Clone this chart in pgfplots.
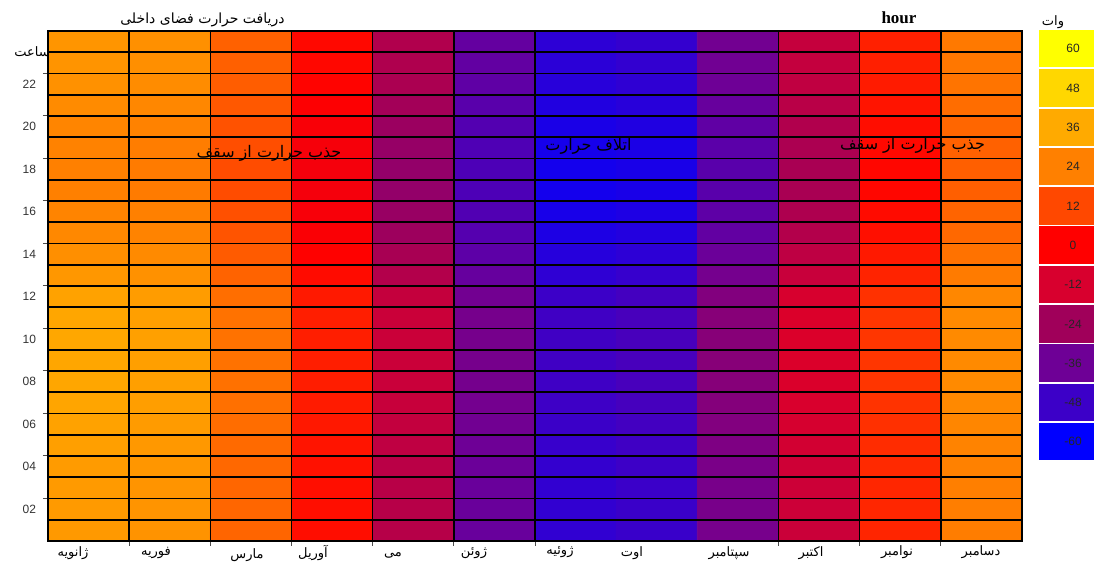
\documentclass[border=0pt]{standalone}
\usepackage{fontspec}
\usepackage{pgfplots}
\pgfplotsset{compat=1.18}
\setmainfont{Liberation Sans}
\newfontfamily\fa[Script=Arabic]{DejaVu Sans}
\newfontfamily\serifb{Liberation Serif}
\TeXXeTstate=1
\definecolor{c60}{RGB}{255,255,0}
\definecolor{c48}{RGB}{255,215,0}
\definecolor{c36}{RGB}{255,170,0}
\definecolor{c24}{RGB}{255,128,0}
\definecolor{c12}{RGB}{255,72,0}
\definecolor{c0}{RGB}{255,0,0}
\definecolor{cm12}{RGB}{216,0,46}
\definecolor{cm24}{RGB}{160,0,90}
\definecolor{cm36}{RGB}{110,0,150}
\definecolor{cm48}{RGB}{60,0,200}
\definecolor{cm60}{RGB}{0,0,255}
\begin{document}
\begin{tikzpicture}
\useasboundingbox (0,0) rectangle (547pt,281pt);
\begin{axis}[
  at={(24pt,10.5pt)}, anchor=south west,
  width=487pt, height=255pt, scale only axis,
  xmin=0, xmax=12, ymin=0, ymax=24,
  colormap={heat}{rgb255=(0,0,255) rgb255=(60,0,200) rgb255=(110,0,150) rgb255=(160,0,90) rgb255=(216,0,46) rgb255=(255,0,0) rgb255=(255,72,0) rgb255=(255,128,0) rgb255=(255,170,0) rgb255=(255,215,0) rgb255=(255,255,0)},
  point meta min=-60, point meta max=60,
  xtick={1,2,3,4,5,6,9,10,11}, xticklabels={},
  ytick={2,4,...,22}, yticklabels={02,04,06,08,10,12,14,16,18,20,22},
  minor ytick={1,3,...,23},
  tick pos=left,
  tick align=outside, major tick length=2.5pt, minor tick length=0pt,
  xmajorgrids, ymajorgrids, yminorgrids,
  major grid style={black, line width=0.8pt}, minor grid style={black, line width=0.8pt},
  axis line style={black, line width=0.8pt},
  tick style={black!70, line width=0.5pt},
  axis on top,
  yticklabel style={font=\fontsize{6}{7}\selectfont, text=black!80, yshift=-5.3pt},
  /pgf/number format/assume math mode=true,
]
\addplot[matrix plot*, mesh/cols=12, point meta=explicit] table[row sep=\\, meta=c] {
x y c\\
0.5 0.5 31.2\\ 1.5 0.5 29.5\\ 2.5 0.5 18.2\\ 3.5 0.5 2.2\\ 4.5 0.5 -19.2\\ 5.5 0.5 -37.5\\ 6.5 0.5 -50.2\\ 7.5 0.5 -48.5\\ 8.5 0.5 -33.9\\ 9.5 0.5 -14.9\\ 10.5 0.5 6.2\\ 11.5 0.5 23.5\\
0.5 1.5 31.4\\ 1.5 1.5 29.7\\ 2.5 1.5 18.4\\ 3.5 1.5 2.4\\ 4.5 1.5 -19\\ 5.5 1.5 -37.3\\ 6.5 1.5 -50\\ 7.5 1.5 -48.3\\ 8.5 1.5 -33.6\\ 9.5 1.5 -14.6\\ 10.5 1.5 6.4\\ 11.5 1.5 23.7\\
0.5 2.5 31.5\\ 1.5 2.5 29.8\\ 2.5 2.5 18.4\\ 3.5 2.5 2.4\\ 4.5 2.5 -18.8\\ 5.5 2.5 -37.2\\ 6.5 2.5 -49.9\\ 7.5 2.5 -48.2\\ 8.5 2.5 -33.5\\ 9.5 2.5 -14.5\\ 10.5 2.5 6.4\\ 11.5 2.5 23.8\\
0.5 3.5 31.9\\ 1.5 3.5 30.2\\ 2.5 3.5 18.8\\ 3.5 3.5 2.8\\ 4.5 3.5 -18.4\\ 5.5 3.5 -36.8\\ 6.5 3.5 -49.5\\ 7.5 3.5 -47.8\\ 8.5 3.5 -33.1\\ 9.5 3.5 -14.1\\ 10.5 3.5 6.8\\ 11.5 3.5 24.2\\
0.5 4.5 32.8\\ 1.5 4.5 31\\ 2.5 4.5 19.4\\ 3.5 4.5 3.4\\ 4.5 4.5 -17.4\\ 5.5 4.5 -36\\ 6.5 4.5 -48.8\\ 7.5 4.5 -47\\ 8.5 4.5 -32.2\\ 9.5 4.5 -13.2\\ 10.5 4.5 7.4\\ 11.5 4.5 25\\
0.5 5.5 33.7\\ 1.5 5.5 31.8\\ 2.5 5.5 20\\ 3.5 5.5 4\\ 4.5 5.5 -16.4\\ 5.5 5.5 -35.2\\ 6.5 5.5 -48.1\\ 7.5 5.5 -46.2\\ 8.5 5.5 -31.3\\ 9.5 5.5 -12.3\\ 10.5 5.5 8\\ 11.5 5.5 25.8\\
0.5 6.5 34.5\\ 1.5 6.5 32.5\\ 2.5 6.5 20.6\\ 3.5 6.5 4.6\\ 4.5 6.5 -15.6\\ 5.5 6.5 -34.5\\ 6.5 6.5 -47.5\\ 7.5 6.5 -45.5\\ 8.5 6.5 -30.6\\ 9.5 6.5 -11.6\\ 10.5 6.5 8.6\\ 11.5 6.5 26.5\\
0.5 7.5 34.8\\ 1.5 7.5 32.8\\ 2.5 7.5 20.8\\ 3.5 7.5 4.8\\ 4.5 7.5 -15.2\\ 5.5 7.5 -34.2\\ 6.5 7.5 -47.2\\ 7.5 7.5 -45.2\\ 8.5 7.5 -30.2\\ 9.5 7.5 -11.2\\ 10.5 7.5 8.8\\ 11.5 7.5 26.8\\
0.5 8.5 35\\ 1.5 8.5 33\\ 2.5 8.5 21\\ 3.5 8.5 5\\ 4.5 8.5 -15\\ 5.5 8.5 -34\\ 6.5 8.5 -47\\ 7.5 8.5 -45\\ 8.5 8.5 -30\\ 9.5 8.5 -11\\ 10.5 8.5 9\\ 11.5 8.5 27\\
0.5 9.5 35.2\\ 1.5 9.5 33.1\\ 2.5 9.5 21\\ 3.5 9.5 5\\ 4.5 9.5 -15\\ 5.5 9.5 -34\\ 6.5 9.5 -47\\ 7.5 9.5 -45\\ 8.5 9.5 -30\\ 9.5 9.5 -11\\ 10.5 9.5 9\\ 11.5 9.5 27\\
0.5 10.5 35\\ 1.5 10.5 33\\ 2.5 10.5 21\\ 3.5 10.5 5\\ 4.5 10.5 -15\\ 5.5 10.5 -34\\ 6.5 10.5 -47\\ 7.5 10.5 -45\\ 8.5 10.5 -30\\ 9.5 10.5 -11\\ 10.5 10.5 9\\ 11.5 10.5 27\\
0.5 11.5 33.9\\ 1.5 11.5 32\\ 2.5 11.5 20.2\\ 3.5 11.5 4.2\\ 4.5 11.5 -16.2\\ 5.5 11.5 -35\\ 6.5 11.5 -47.9\\ 7.5 11.5 -46\\ 8.5 11.5 -31.1\\ 9.5 11.5 -12.1\\ 10.5 11.5 8.2\\ 11.5 11.5 26\\
0.5 12.5 30.6\\ 1.5 12.5 29\\ 2.5 12.5 17.8\\ 3.5 12.5 1.8\\ 4.5 12.5 -19.8\\ 5.5 12.5 -38\\ 6.5 12.5 -50.6\\ 7.5 12.5 -49\\ 8.5 12.5 -34.4\\ 9.5 12.5 -15.4\\ 10.5 12.5 5.8\\ 11.5 12.5 23\\
0.5 13.5 28.4\\ 1.5 13.5 27\\ 2.5 13.5 16.2\\ 3.5 13.5 0.2\\ 4.5 13.5 -22.2\\ 5.5 13.5 -40\\ 6.5 13.5 -52.4\\ 7.5 13.5 -51\\ 8.5 13.5 -36.6\\ 9.5 13.5 -17.6\\ 10.5 13.5 4.2\\ 11.5 13.5 21\\
0.5 14.5 26.2\\ 1.5 14.5 25\\ 2.5 14.5 14.6\\ 3.5 14.5 -1.4\\ 4.5 14.5 -24.6\\ 5.5 14.5 -42\\ 6.5 14.5 -54.2\\ 7.5 14.5 -53\\ 8.5 14.5 -38.8\\ 9.5 14.5 -19.8\\ 10.5 14.5 2.6\\ 11.5 14.5 19\\
0.5 15.5 25.1\\ 1.5 15.5 24\\ 2.5 15.5 13.8\\ 3.5 15.5 -2.2\\ 4.5 15.5 -25.8\\ 5.5 15.5 -43\\ 6.5 15.5 -55.1\\ 7.5 15.5 -54\\ 8.5 15.5 -39.9\\ 9.5 15.5 -20.9\\ 10.5 15.5 1.8\\ 11.5 15.5 18\\
0.5 16.5 24\\ 1.5 16.5 23\\ 2.5 16.5 13\\ 3.5 16.5 -3\\ 4.5 16.5 -27\\ 5.5 16.5 -44\\ 6.5 16.5 -56\\ 7.5 16.5 -55\\ 8.5 16.5 -41\\ 9.5 16.5 -22\\ 10.5 16.5 1\\ 11.5 16.5 17\\
0.5 17.5 24\\ 1.5 17.5 23\\ 2.5 17.5 13\\ 3.5 17.5 -3\\ 4.5 17.5 -27\\ 5.5 17.5 -44\\ 6.5 17.5 -56\\ 7.5 17.5 -55\\ 8.5 17.5 -41\\ 9.5 17.5 -22\\ 10.5 17.5 1\\ 11.5 17.5 17\\
0.5 18.5 24.5\\ 1.5 18.5 23.5\\ 2.5 18.5 13.4\\ 3.5 18.5 -2.6\\ 4.5 18.5 -26.4\\ 5.5 18.5 -43.5\\ 6.5 18.5 -55.6\\ 7.5 18.5 -54.5\\ 8.5 18.5 -40.5\\ 9.5 18.5 -21.5\\ 10.5 18.5 1.4\\ 11.5 18.5 17.5\\
0.5 19.5 25.6\\ 1.5 19.5 24.5\\ 2.5 19.5 14.2\\ 3.5 19.5 -1.8\\ 4.5 19.5 -25.2\\ 5.5 19.5 -42.5\\ 6.5 19.5 -54.7\\ 7.5 19.5 -53.5\\ 8.5 19.5 -39.4\\ 9.5 19.5 -20.4\\ 10.5 19.5 2.2\\ 11.5 19.5 18.5\\
0.5 20.5 27.3\\ 1.5 20.5 26\\ 2.5 20.5 15.4\\ 3.5 20.5 -0.6\\ 4.5 20.5 -23.4\\ 5.5 20.5 -41\\ 6.5 20.5 -53.3\\ 7.5 20.5 -52\\ 8.5 20.5 -37.7\\ 9.5 20.5 -18.7\\ 10.5 20.5 3.4\\ 11.5 20.5 20\\
0.5 21.5 29\\ 1.5 21.5 27.5\\ 2.5 21.5 16.6\\ 3.5 21.5 0.6\\ 4.5 21.5 -21.6\\ 5.5 21.5 -39.5\\ 6.5 21.5 -52\\ 7.5 21.5 -50.5\\ 8.5 21.5 -36.1\\ 9.5 21.5 -17.1\\ 10.5 21.5 4.6\\ 11.5 21.5 21.5\\
0.5 22.5 29.7\\ 1.5 22.5 28.2\\ 2.5 22.5 17.2\\ 3.5 22.5 1.2\\ 4.5 22.5 -20.8\\ 5.5 22.5 -38.8\\ 6.5 22.5 -51.3\\ 7.5 22.5 -49.8\\ 8.5 22.5 -35.3\\ 9.5 22.5 -16.3\\ 10.5 22.5 5.2\\ 11.5 22.5 22.2\\
0.5 23.5 30\\ 1.5 23.5 28.5\\ 2.5 23.5 17.4\\ 3.5 23.5 1.4\\ 4.5 23.5 -20.4\\ 5.5 23.5 -38.5\\ 6.5 23.5 -51\\ 7.5 23.5 -49.5\\ 8.5 23.5 -35\\ 9.5 23.5 -16\\ 10.5 23.5 5.4\\ 11.5 23.5 22.5\\
};
\end{axis}
% titles and labels
\node[anchor=east, inner sep=0pt] at (142.5pt,271pt) {\fontsize{7}{8}\fa\beginR دریافت حرارت فضای داخلی\endR};
\node[inner sep=0pt] at (16pt,255pt) {\fontsize{6.5}{7}\fa\beginR ساعت\endR};
\node[inner sep=0pt] at (449.5pt,272pt) {\fontsize{8.5}{9}\serifb\bfseries hour};
\node[inner sep=0pt] at (526.5pt,270pt) {\fontsize{6.5}{7}\fa\beginR وات\endR};
% annotations
\node[inner sep=0pt] at (134.5pt,204.5pt) {\fontsize{8}{9}\fa\beginR جذب حرارت از سقف\endR};
\node[inner sep=0pt] at (294.25pt,208pt) {\fontsize{8}{9}\fa\beginR اتلاف حرارت\endR};
\node[inner sep=0pt] at (456.25pt,208.5pt) {\fontsize{8}{9}\fa\beginR جذب حرارت از سقف\endR};
% month labels
\foreach \xx/\yy/\m in {36.5/4.5/ژانویه, 78/4.5/فوریه, 123.5/3.2/مارس, 156.5/4.5/آوریل, 196.5/3.2/می, 237/4.5/ژوئن, 280/5/ژوئیه, 316/4.5/اوت, 364.5/4.5/سپتامبر, 405.5/4.5/اکتبر, 448.5/5/نوامبر, 490.5/5/دسامبر}
  {\node[inner sep=0pt] at (\xx pt,\yy pt) {\fontsize{6.5}{7}\fa\beginR \m\endR};}
% colour key
\foreach \i/\c/\t in {0/c60/60, 1/c48/48, 2/c36/36, 3/c24/24, 4/c12/12, 5/c0/0, 6/cm12/-12, 7/cm24/-24, 8/cm36/-36, 9/cm48/-48, 10/cm60/-60}
{
  \fill[\c] (519.5pt,{266pt-19.65pt*\i}) rectangle (560pt,{247.25pt-19.65pt*\i});
  \node[inner sep=0pt, text=black!85] at (536.5pt,{256.6pt-19.65pt*\i}) {\fontsize{6}{7}\selectfont \t};
}
\end{tikzpicture}
\end{document}
